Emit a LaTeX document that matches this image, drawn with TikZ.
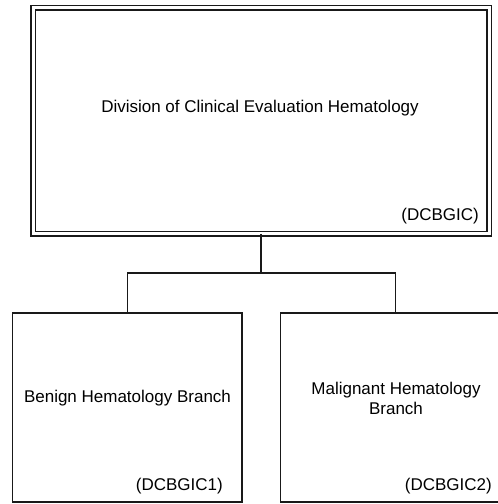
\documentclass[tikz,border=0pt]{standalone}
\usepackage{fontspec}
\setmainfont{Liberation Sans}
\usetikzlibrary{calc}

\begin{document}
\begin{tikzpicture}[x=1pt, y=-1pt,
    topbox/.style={draw=black!90, line width=1.5pt, double, double distance=3pt,
      minimum width=456pt, minimum height=226pt, inner sep=0pt},
    branchbox/.style={draw=black!90, line width=1.5pt,
      minimum width=229.5pt, minimum height=189pt, inner sep=0pt},
    link/.style={draw=black!90, line width=1.5pt},
    boxtitle/.style={font=\fontsize{17}{20}\selectfont, align=center, inner sep=0pt},
    boxcode/.style={font=\fontsize{17}{20}\selectfont, anchor=east, inner sep=0pt}]
		%%%%% START %%%%%
		
		\useasboundingbox (0,0) rectangle (498,504);
		\clip (0,0) rectangle (498,504);
		
		\node[topbox] (division) at (261,120.5) {};
		\node[boxtitle] (divtitle) at (260,108) {Division of Clinical Evaluation Hematology};
		\node[boxcode] (divcode) at (479,216) {(DCBGIC)};
		
		\node[branchbox] (benign) at (127.25,407.5) {};
		\node[boxtitle] (benigntitle) at (127.5,398) {Benign Hematology Branch};
		\node[boxcode] (benigncode) at (223,486) {(DCBGIC1)};
		
		\node[branchbox] (malignant) at (395.25,407.5) {};
		\node[boxtitle] (malignanttitle) at (396,398) {Malignant Hematology\\Branch};
		\node[boxcode] (malignantcode) at (492,486) {(DCBGIC2)};
		
		\coordinate (fork) at (261,273);
		\draw[link] (division.south) -- (fork);
		\draw[link] (benign.north) |- (fork) -| (malignant.north);
		
		%%%%% END %%%%%
\end{tikzpicture}
\end{document}
